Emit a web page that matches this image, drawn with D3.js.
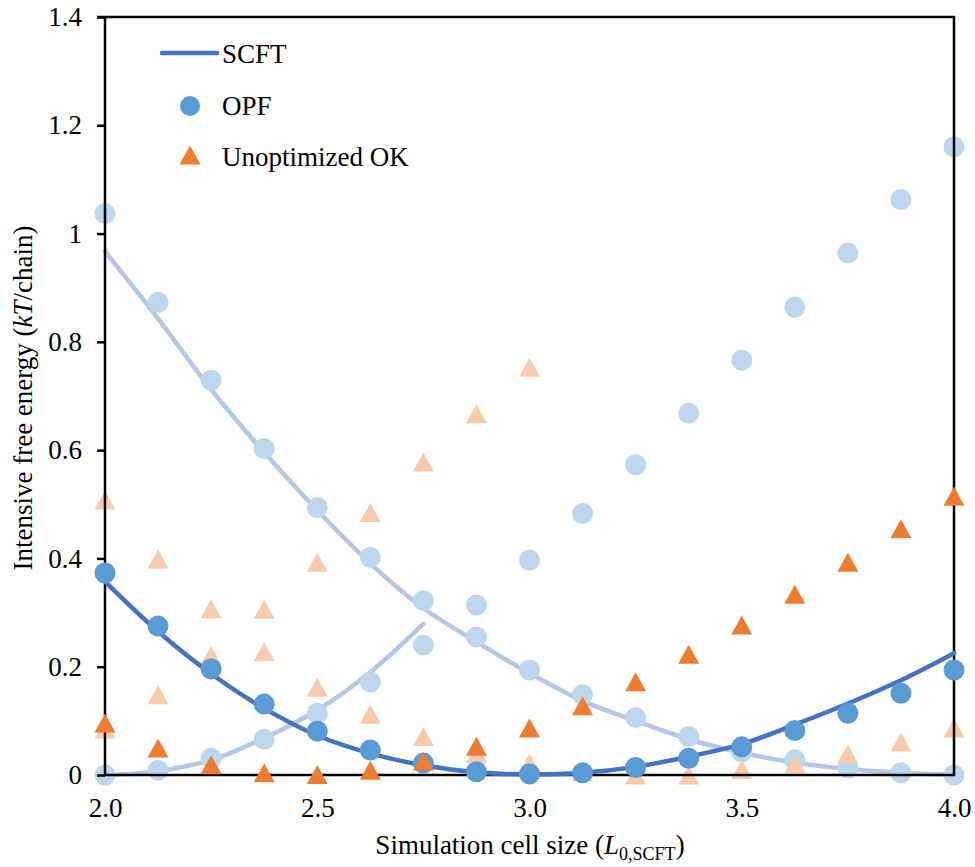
<!DOCTYPE html>
<html>
<head>
<meta charset="utf-8">
<script src="https://cdn.jsdelivr.net/npm/d3@7"></script>
<style>
  html, body { margin: 0; padding: 0; background: #fff; }
  svg { display: block; }
  svg text { font-family: "Liberation Serif", "Times New Roman", Times, Tinos, "Nimbus Roman", "DejaVu Serif", serif; }
</style>
</head>
<body>
<svg id="chart" width="975" height="867"></svg>
<script>
// Simulation cell sizes (in units of L0,SCFT)
const cellSize = [2.0, 2.125, 2.25, 2.375, 2.5, 2.625, 2.75, 2.875, 3.0,
                  3.125, 3.25, 3.375, 3.5, 3.625, 3.75, 3.875, 4.0];

// Main phase: SCFT curve, OPF and unoptimized OK free energies (kT/chain)
const scft = [0.357, 0.265, 0.187, 0.123, 0.073, 0.040, 0.018, 0.005, 0.001,
              0.004, 0.015, 0.034, 0.057, 0.093, 0.132, 0.175, 0.225];
const opf = [0.373, 0.275, 0.196, 0.131, 0.081, 0.046, 0.022, 0.006, 0.002,
             0.004, 0.014, 0.031, 0.052, 0.082, 0.114, 0.151, 0.194];
const unoptOK = [0.096, 0.050, 0.019, 0.004, 0.001, 0.009, 0.026, 0.053, 0.087,
                 0.128, 0.172, 0.223, 0.277, 0.334, 0.393, 0.455, 0.515];

// Competing phases (drawn faded)
const scftAltA = [0.967, 0.843, 0.712, 0.596, 0.489, 0.391, 0.308, 0.246, 0.188,
                  0.137, 0.100, 0.066, 0.041, 0.023, 0.011, 0.004, 0.0];
const scftAltB = [0.0, 0.007, 0.028, 0.068, 0.120, 0.190, 0.279];
const opfAltA = [1.037, 0.873, 0.729, 0.603, 0.494, 0.402, 0.322, 0.255, 0.194,
                 0.148, 0.106, 0.071, 0.043, 0.028, 0.013, 0.004, 0.0];
const opfAltB = [0.0, 0.009, 0.031, 0.066, 0.114, 0.172, 0.240, 0.314, 0.397,
                 0.483, 0.573, 0.668, 0.766, 0.864, 0.964, 1.063, 1.160];
const okAltA = [0.508, 0.399, 0.307, 0.228, 0.162, 0.112, 0.071, 0.040, 0.022,
                0.006, 0.0, 0.0, 0.010, 0.021, 0.039, 0.061, 0.087];
const okAltB = [0.085, 0.148, 0.221, 0.306, 0.393, 0.485, 0.578, 0.667, 0.753];

// Axis ticks
const xTicks = [2.0, 2.5, 3.0, 3.5, 4.0];
const xTickLabels = ["2.0", "2.5", "3.0", "3.5", "4.0"];
const yTicks = [0, 0.2, 0.4, 0.6, 0.8, 1.0, 1.2, 1.4];
const yTickLabels = ["0", "0.2", "0.4", "0.6", "0.8", "1", "1.2", "1.4"];

// Legend entries
const legendLabels = ["SCFT", "OPF", "Unoptimized OK"];

const colors = {
  line: "#4472C4", circle: "#5B9BD5", tri: "#ED7D31",
  lineLight: "#B4C7E7", circleLight: "#BDD7EE", triLight: "#F8CBAD"
};
const fontSize = 27;

const svg = d3.select("#chart");
const x = d3.scaleLinear().domain([2, 4]).range([105, 954]);
const y = d3.scaleLinear().domain([0, 1.4]).range([775, 17]);

// Triangle marker centred on its bounding box
const triW = 21, triH = 19;
const triangleType = {
  draw(ctx) {
    ctx.moveTo(0, -triH / 2);
    ctx.lineTo(triW / 2, triH / 2);
    ctx.lineTo(-triW / 2, triH / 2);
    ctx.closePath();
  }
};
const triPath = d3.symbol().type(triangleType)();

const pts = vals => vals.map((v, i) => [cellSize[i], v]);
const lineGen = d3.line().x(d => x(d[0])).y(d => y(d[1])).curve(d3.curveCatmullRom.alpha(0.5));

function drawLine(layer, vals, color, width) {
  layer.append("path").datum(pts(vals))
    .attr("d", lineGen).attr("fill", "none")
    .attr("stroke", color).attr("stroke-width", width)
    .attr("stroke-linecap", "round").attr("stroke-linejoin", "round");
}
function drawCircles(layer, vals, color) {
  layer.append("g").selectAll("circle").data(pts(vals)).join("circle")
    .attr("cx", d => x(d[0])).attr("cy", d => y(d[1]))
    .attr("r", 10.5).attr("fill", color);
}
function drawTriangles(layer, vals, color) {
  layer.append("g").selectAll("path").data(pts(vals)).join("path")
    .attr("d", triPath)
    .attr("transform", d => `translate(${x(d[0])},${y(d[1])})`)
    .attr("fill", color);
}

// Faded competing phases first
const faded = svg.append("g");
drawLine(faded, scftAltA, colors.lineLight, 4.5);
drawLine(faded, scftAltB, colors.lineLight, 4.5);
drawCircles(faded, opfAltA, colors.circleLight);
drawCircles(faded, opfAltB, colors.circleLight);
drawTriangles(faded, okAltA, colors.triLight);
drawTriangles(faded, okAltB, colors.triLight);

// Axes and frame
const yAxis = d3.axisLeft(y).tickValues(yTicks)
  .tickFormat((d, i) => yTickLabels[i]).tickSize(8).tickPadding(15);
const gy = svg.append("g").attr("transform", "translate(105,0)").call(yAxis)
  .attr("font-family", null).attr("font-size", fontSize);
gy.select(".domain").remove();
gy.selectAll(".tick line").attr("stroke", "#000").attr("stroke-width", 2.5);
gy.selectAll(".tick text").attr("fill", "#000");

const xAxis = d3.axisBottom(x).tickValues(xTicks)
  .tickFormat((d, i) => xTickLabels[i]).tickSize(0).tickPadding(23);
const gx = svg.append("g").attr("transform", "translate(0,775)").call(xAxis)
  .attr("font-family", null).attr("font-size", fontSize);
gx.select(".domain").remove();
gx.selectAll(".tick text").attr("fill", "#000");

const frame = svg.append("g").attr("stroke", "#000").attr("stroke-width", 2.5).attr("fill", "none");
frame.append("line").attr("x1", x(2)).attr("x2", x(2)).attr("y1", y(1.4) - 1).attr("y2", y(0) + 1);
frame.append("line").attr("x1", x(4)).attr("x2", x(4)).attr("y1", y(1.4) - 1).attr("y2", y(0) + 1);
frame.append("line").attr("x1", x(2) - 8).attr("x2", x(4) + 1).attr("y1", y(1.4)).attr("y2", y(1.4));
frame.append("line").attr("x1", x(2)).attr("x2", x(4) + 1).attr("y1", y(0)).attr("y2", y(0));

// Main phase on top
const mainLayer = svg.append("g");
drawLine(mainLayer, scft, colors.line, 4.5);
drawCircles(mainLayer, opf, colors.circle);
drawTriangles(mainLayer, unoptOK, colors.tri);

// Legend
const legend = svg.append("g").attr("font-size", fontSize).attr("fill", "#000");
legend.append("line").attr("x1", 162).attr("x2", 217).attr("y1", 53).attr("y2", 53)
  .attr("stroke", colors.line).attr("stroke-width", 4.5).attr("stroke-linecap", "round");
legend.append("circle").attr("cx", 190).attr("cy", 106).attr("r", 10).attr("fill", colors.circle);
legend.append("path").attr("d", triPath).attr("transform", "translate(190,155)").attr("fill", colors.tri);
legend.selectAll("text").data(legendLabels).join("text")
  .attr("x", 222).attr("y", (d, i) => 63 + i * 51.5).text(d => d);

// Axis titles
const xt = svg.append("text").attr("x", 530).attr("y", 854)
  .attr("text-anchor", "middle").attr("font-size", fontSize).attr("fill", "#000");
xt.append("tspan").text("Simulation cell size (");
xt.append("tspan").attr("font-style", "italic").text("L");
xt.append("tspan").attr("font-size", 18).attr("dy", 6).text("0,SCFT");
xt.append("tspan").attr("dy", -6).text(")");

const yt = svg.append("text").attr("transform", "translate(32,398) rotate(-90)")
  .attr("text-anchor", "middle").attr("font-size", fontSize).attr("fill", "#000");
yt.append("tspan").text("Intensive free energy (");
yt.append("tspan").attr("font-style", "italic").text("kT");
yt.append("tspan").text("/chain)");
</script>
</body>
</html>
